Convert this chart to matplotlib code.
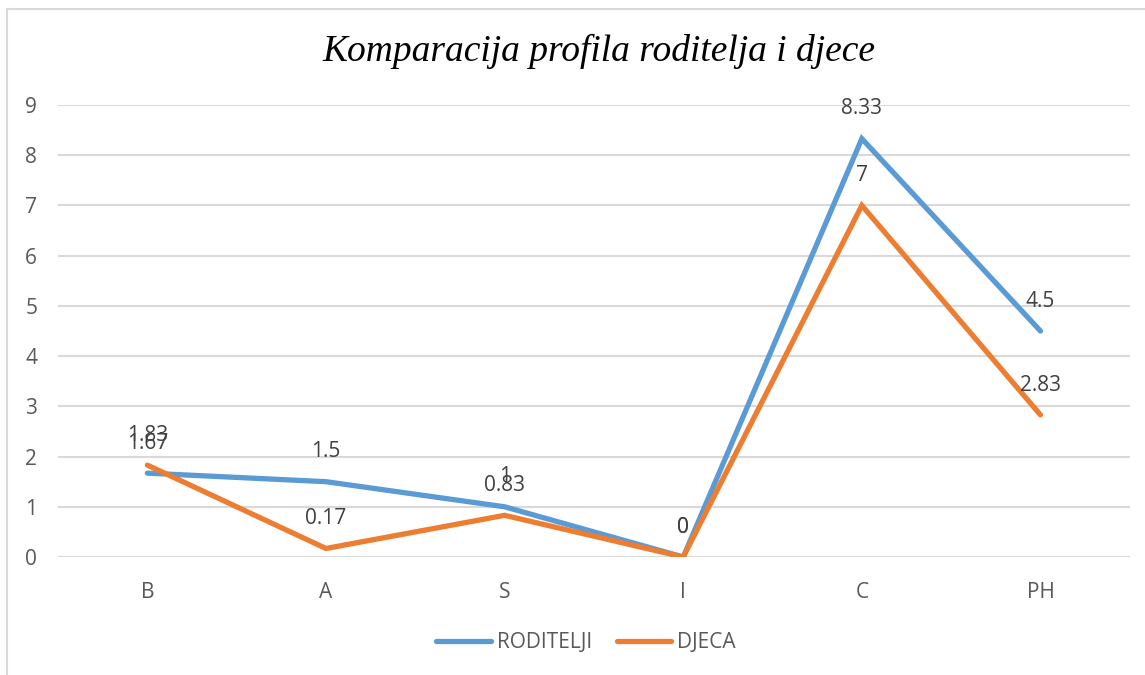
import numpy as np
import matplotlib
matplotlib.use("Agg")
from matplotlib import pyplot as plt
from matplotlib.lines import Line2D

categories = ["B", "A", "S", "I", "C", "PH"]
roditelji = [1.67, 1.5, 1, 0, 8.33, 4.5]
djeca = [1.83, 0.17, 0.83, 0, 7, 2.83]
roditelji_labels = ["1.67", "1.5", "1", "0", "8.33", "4.5"]
djeca_labels = ["1.83", "0.17", "0.83", "0", "7", "2.83"]

blue = "#5B9BD5"
orange = "#ED7D31"
grid_color = "#D9D9D9"
tick_color = "#595959"
label_color = "#404040"

plt.rcParams["font.family"] = ["Open Sans", "DejaVu Sans"]

fig = plt.figure(figsize=(11.45, 6.75), dpi=100)
ax = fig.add_axes([0.0507, 0.1748, 0.936, 0.6696])

x = np.arange(len(categories))
ax.plot(x, roditelji, color=blue, lw=3.8, solid_capstyle="round",
        solid_joinstyle="miter", label="RODITELJI", zorder=3)
ax.plot(x, djeca, color=orange, lw=3.8, solid_capstyle="round",
        solid_joinstyle="miter", label="DJECA", zorder=3)

# data labels above points
for xi, yi, s in zip(x, roditelji, roditelji_labels):
    ax.annotate(s, (xi, yi), xytext=(0, 21.5), textcoords="offset points",
                ha="center", va="center", fontsize=15, color=label_color)
for xi, yi, s in zip(x, djeca, djeca_labels):
    ax.annotate(s, (xi, yi), xytext=(0, 21.5), textcoords="offset points",
                ha="center", va="center", fontsize=15, color=label_color)

ax.set_xlim(-0.5, len(categories) - 0.5)
ax.set_ylim(0, 9)
ax.set_yticks(np.arange(0, 10, 1))
ax.set_xticks(x)
ax.set_xticklabels(categories)
ax.tick_params(axis="both", length=0, labelsize=15, labelcolor=tick_color)
ax.tick_params(axis="y", pad=15)
ax.tick_params(axis="x", pad=18)
ax.grid(axis="y", color=grid_color, lw=1.5)
ax.set_axisbelow(True)
for sp in ax.spines.values():
    sp.set_visible(False)

fig.text(0.523, 1 - 51 / 675, "Komparacija profila roditelja i djece",
         ha="center", va="center", fontsize=27, style="italic",
         family="Liberation Serif", color="black")

leg = fig.legend(loc="center", bbox_to_anchor=(0.512, 1 - 643 / 675),
                 ncol=2, frameon=False, fontsize=15, handlelength=2.6,
                 handletextpad=0.3, columnspacing=1.2)
for t in leg.get_texts():
    t.set_color(tick_color)

# outer chart frame (left and top edges visible)
fig.add_artist(Line2D([7 / 1145, 7 / 1145], [0, 1 - 9 / 675],
                      transform=fig.transFigure, color=grid_color, lw=1.5))
fig.add_artist(Line2D([7 / 1145, 1], [1 - 9 / 675, 1 - 9 / 675],
                      transform=fig.transFigure, color=grid_color, lw=1.5))

fig.savefig("out.png", dpi=100)
